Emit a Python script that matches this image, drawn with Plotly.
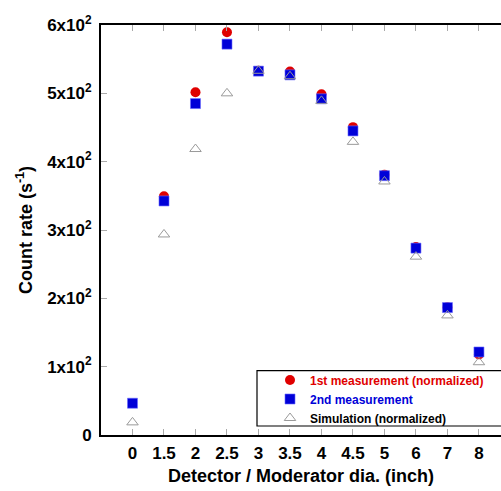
import plotly.graph_objects as go

categories = ["0", "1.5", "2", "2.5", "3", "3.5", "4", "4.5", "5", "6", "7", "8"]
meas1 = [None, 349.5, 501.5, 589.5, 533, 532, 498.5, 450.5, 381, 275, 187, 118]
meas2 = [46.5, 342.5, 485, 572, 532.5, 527, 492, 445, 379.5, 273.5, 186.5, 121.5]
sim = [18.5, 293.5, 418.5, 500, 533, 525, 489, 429, 371, 261, 175, 106.5]
ytick_vals = [0, 100, 200, 300, 400, 500, 600]
ytick_text = ["0", "1x10<sup>2</sup>", "2x10<sup>2</sup>", "3x10<sup>2</sup>",
              "4x10<sup>2</sup>", "5x10<sup>2</sup>", "6x10<sup>2</sup>"]

FONT = "Liberation Sans, Arial, sans-serif"
RED = "#e00000"
BLUE = "#0000d8"

fig = go.Figure()
fig.add_trace(go.Scatter(x=categories, y=meas1, mode="markers",
                         name=f"<span style='color:{RED}'>1st measurement (normalized)</span>",
                         marker=dict(symbol="circle", size=10, color=RED,
                                     line=dict(width=0))))
fig.add_trace(go.Scatter(x=categories, y=meas2, mode="markers",
                         name=f"<span style='color:{BLUE}'>2nd measurement</span>",
                         marker=dict(symbol="square", size=10, color=BLUE,
                                     line=dict(width=0.6, color="#6a6aff"))))
fig.add_trace(go.Scatter(x=categories, y=sim, mode="markers",
                         name="Simulation (normalized)",
                         marker=dict(symbol="triangle-up-open", size=10, color="#9a9a9a",
                                     line=dict(width=1, color="#9a9a9a"))))

# legend frame
fig.add_shape(type="rect", xref="paper", yref="paper",
              x0=0.39, x1=1.05, y0=0.022, y1=0.157,
              line=dict(color="black", width=1.2), fillcolor="white", layer="below")

fig.update_layout(
    width=501, height=491,
    margin=dict(l=101, r=0, t=25, b=56, autoexpand=False),
    paper_bgcolor="white", plot_bgcolor="white",
    font=dict(family=FONT, size=17, color="black", weight=700),
    showlegend=True,
    legend=dict(x=0.39, y=0.1695, xanchor="left", yanchor="top",
                bgcolor="rgba(0,0,0,0)", borderwidth=0,
                font=dict(size=12, family=FONT, weight=700, color="black"),
                indentation=13, tracegroupgap=0),
    xaxis=dict(type="category", categoryorder="array", categoryarray=categories,
               range=[-1, 11.7], showline=True, linecolor="black", linewidth=2,
               mirror="ticks", ticks="inside", ticklen=6, tickcolor="#aaaaaa",
               tickwidth=1, showgrid=False, zeroline=False, automargin=False,
               ticklabelstandoff=2,
               title=dict(text="Detector / Moderator dia. (inch)", standoff=7,
                          font=dict(size=18, weight=700)),
               tickfont=dict(size=17, weight=700)),
    yaxis=dict(range=[0, 600], tickvals=ytick_vals, ticktext=ytick_text,
               showline=True, linecolor="black", linewidth=2, mirror=False,
               ticks="inside", ticklen=6, tickcolor="#aaaaaa", tickwidth=1,
               showgrid=False, zeroline=False, automargin=False,
               ticklabelstandoff=4,
               title=dict(text="Count rate (s<sup>-1</sup>)", standoff=10,
                          font=dict(size=18, weight=700)),
               tickfont=dict(size=17, weight=700)),
)

fig.write_html("out.html", config={"displayModeBar": False},
               post_script="document.body.style.margin='0px';")
